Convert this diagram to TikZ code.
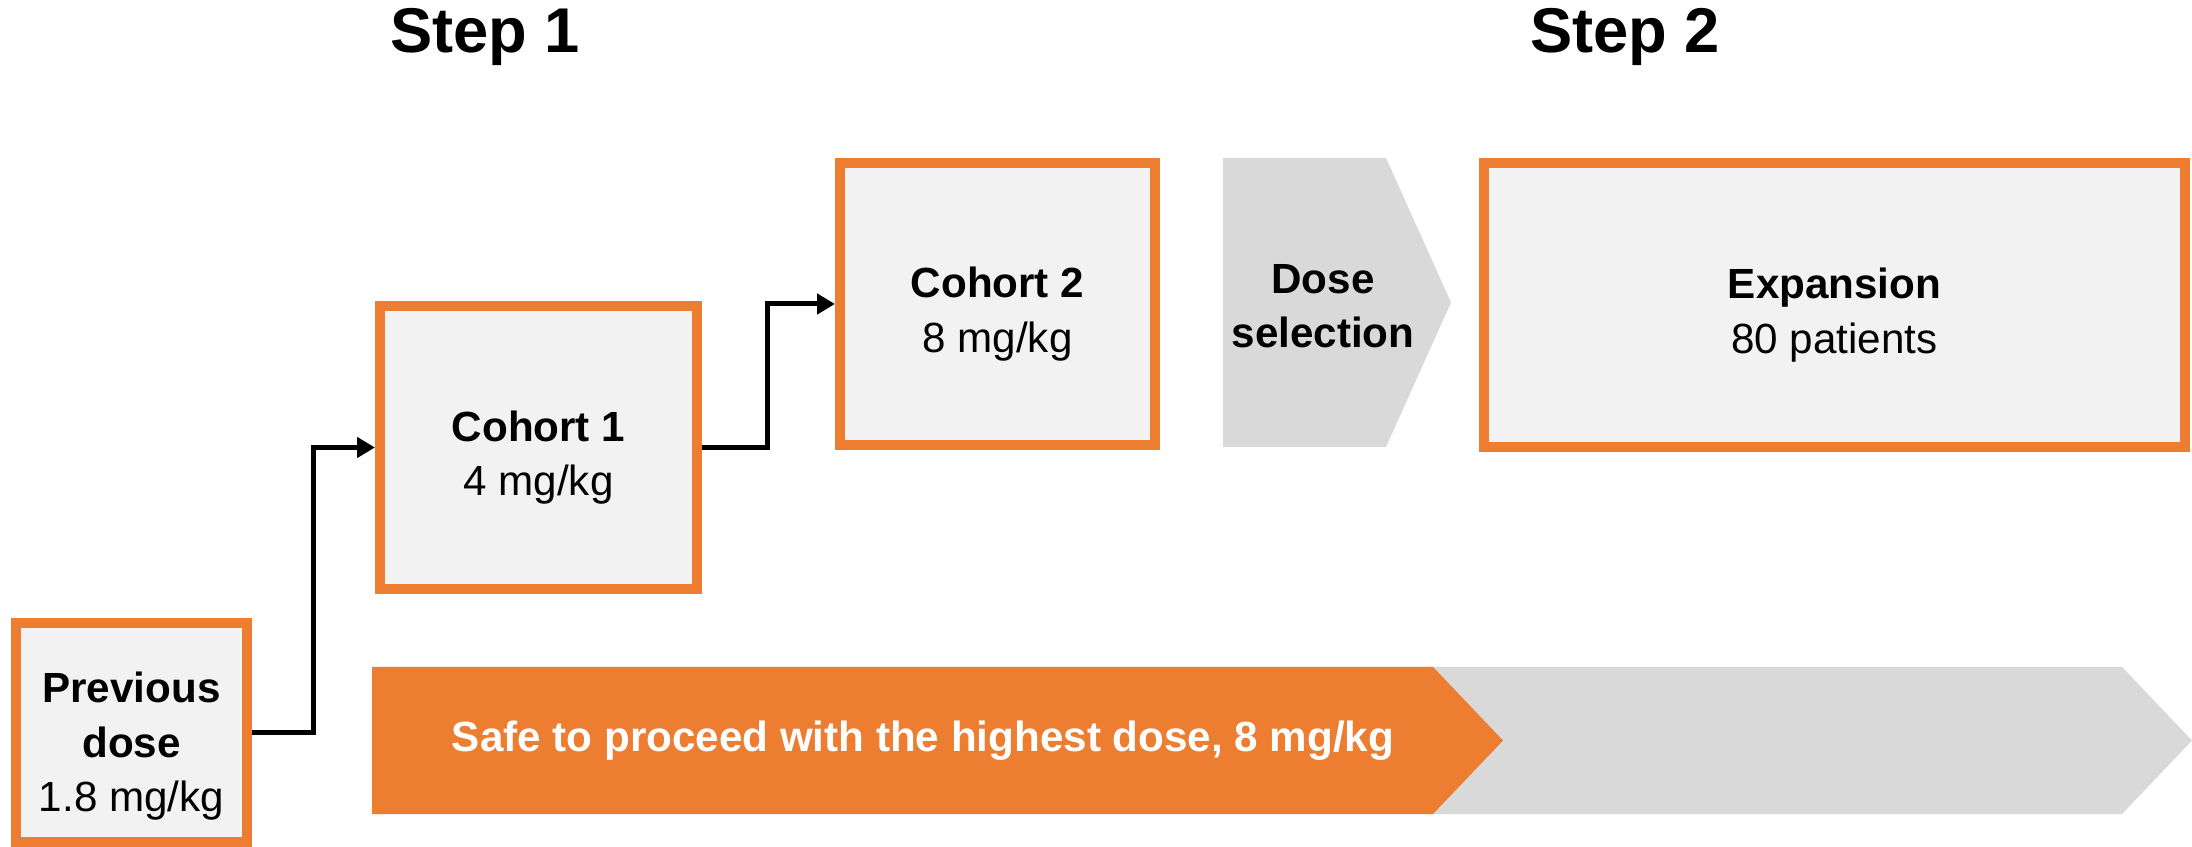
\documentclass[tikz,border=0pt]{standalone}
\usepackage{fontspec}
\setmainfont{Liberation Sans}
\usetikzlibrary{arrows.meta}
\definecolor{dorange}{HTML}{ED7D31}
\definecolor{boxgray}{HTML}{F2F2F2}
\definecolor{chevgray}{HTML}{D9D9D9}
\begin{document}
\begin{tikzpicture}[
    box/.style={draw=dorange, line width=0.1cm, fill=boxgray, inner sep=0pt},
    boxtext/.style={align=center, font=\fontsize{12pt}{15.5pt}\selectfont},
    link/.style={line width=0.05cm, -{Triangle[length=0.18cm,width=0.2cm]}},
    steplabel/.style={font=\fontsize{18pt}{20pt}\selectfont\bfseries}]
    \useasboundingbox (0,0) rectangle (21.92,-8.47);
    % Titres
    \node[steplabel] (s1) at (4.85,-0.37) {Step 1};
    \node[steplabel] (s2) at (16.25,-0.37) {Step 2};
    % Cohortes
    \node[box, minimum width=2.31cm, minimum height=2.19cm] (prev) at (1.315,-7.325) {};
    \node[box, minimum width=3.17cm, minimum height=2.83cm] (c1) at (5.385,-4.475) {};
    \node[box, minimum width=3.15cm, minimum height=2.82cm] (c2) at (9.975,-3.04) {};
    \node[box, minimum width=7.01cm, minimum height=2.84cm] (exp) at (18.345,-3.05) {};
    \node[boxtext] (prevt) at ([yshift=-0.14cm]prev.center) {\textbf{Previous}\\\textbf{dose}\\1.8 mg/kg};
    \node[boxtext] (c1t) at ([yshift=-0.1cm]c1.center) {\textbf{Cohort 1}\\4 mg/kg};
    \node[boxtext] (c2t) at ([yshift=-0.1cm]c2.center) {\textbf{Cohort 2}\\8 mg/kg};
    \node[boxtext] (expt) at ([yshift=-0.1cm]exp.center) {\textbf{Expansion}\\80 patients};
    % Escalade
    \draw[link] (prev.east) -- ++(0.61,0) |- (c1.west);
    \draw[link] (c1.east) -- ++(0.65,0) |- (c2.west);
    % Selection de dose
    \fill[chevgray] (12.23,-1.58) -- (13.86,-1.58) -- (14.51,-3.025) -- (13.86,-4.47) -- (12.23,-4.47) -- cycle;
    \node[boxtext, font=\fontsize{12pt}{15.5pt}\selectfont\bfseries] (dsel) at (13.23,-3.06) {Dose\\selection};
    % Fleche du bas
    \fill[chevgray] (3.8,-6.67) -- (21.22,-6.67) -- (21.92,-7.405) -- (21.22,-8.14) -- (3.8,-8.14) -- cycle;
    \fill[dorange] (3.72,-6.67) -- (14.33,-6.67) -- (15.03,-7.405) -- (14.33,-8.14) -- (3.72,-8.14) -- cycle;
    \node[text=white, font=\fontsize{12pt}{14pt}\selectfont\bfseries] (safe) at (9.23,-7.41)
        {Safe to proceed with the highest dose, 8 mg/kg};
\end{tikzpicture}
\end{document}
